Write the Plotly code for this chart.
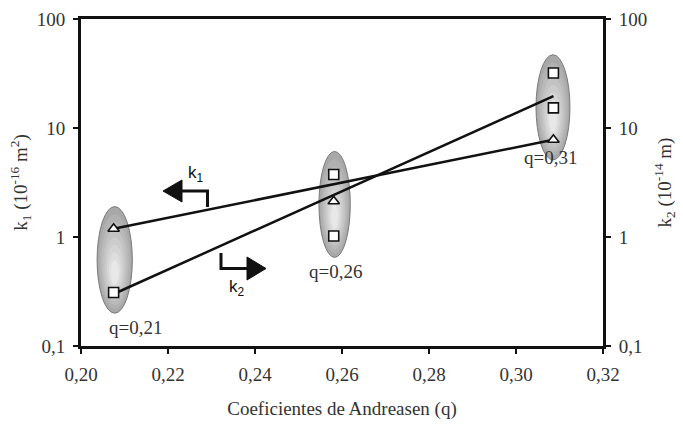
import numpy as np
import plotly.graph_objects as go

# ---------------- data ----------------
q_groups = [0.2075, 0.2581, 0.3086]
group_labels = ["q=0,21", "q=0,26", "q=0,31"]

# k1 (triangles), one per group
k1_q = [0.2075, 0.2581, 0.3086]
k1_val = [1.19, 2.13, 7.8]
# k2 (squares)
k2_q = [0.2075, 0.2581, 0.2581, 0.3086, 0.3086]
k2_val = [0.31, 3.74, 1.02, 32.0, 15.3]

# trend lines
k1_fit_q = [0.2075, 0.3086]
k1_fit_val = [1.19, 7.8]
k2_fit_q = [0.2075, 0.3086]
k2_fit_val = [0.30, 19.6]

# ellipse bounds around each group
ell_q0 = [0.2037, 0.2547, 0.3046]
ell_q1 = [0.2118, 0.2619, 0.3124]
ell_lo = [0.20, 0.65, 5.1]
ell_hi = [1.9, 6.1, 47.0]

x_ticks = [0.20, 0.22, 0.24, 0.26, 0.28, 0.30, 0.32]
x_ticktext = ["0,20", "0,22", "0,24", "0,26", "0,28", "0,30", "0,32"]
y_ticks = [0.1, 1, 10, 100]
y_ticktext = ["0,1", "1", "10", "100"]

# ---------------- layout geometry ----------------
W, H = 683, 424
ML, MR, MT, MB = 81, 80, 19, 78
PW, PH = W - ML - MR, H - MT - MB


def px(x, y):
    """pixel position -> paper coordinates"""
    return (x - ML) / PW, (H - MB - y) / PH


SERIF = "Liberation Serif"
SANS = "Liberation Sans"
TXT = "#333333"

fig = go.Figure()

# trend lines
fig.add_trace(go.Scatter(x=k1_fit_q, y=k1_fit_val, mode="lines",
                         line=dict(color="#111", width=2.5), yaxis="y", hoverinfo="skip"))
fig.add_trace(go.Scatter(x=k2_fit_q, y=k2_fit_val, mode="lines",
                         line=dict(color="#111", width=2.5), yaxis="y2", hoverinfo="skip"))
# markers
fig.add_trace(go.Scatter(x=k1_q, y=k1_val, mode="markers", yaxis="y",
                         marker=dict(symbol="triangle-up", size=10, color="white",
                                     line=dict(color="#111", width=1.6))))
fig.add_trace(go.Scatter(x=k2_q, y=k2_val, mode="markers", yaxis="y2",
                         marker=dict(symbol="square", size=10, color="white",
                                     line=dict(color="#111", width=1.6))))

shapes = []
# shaded ellipses (concentric layers for a gradient look)
n_layers = 8
c_out = np.array([168, 168, 168])
c_in = np.array([232, 232, 232])
for g in range(len(q_groups)):
    cx = (ell_q0[g] + ell_q1[g]) / 2
    hw = (ell_q1[g] - ell_q0[g]) / 2
    lc = (np.log10(ell_lo[g]) + np.log10(ell_hi[g])) / 2
    lh = (np.log10(ell_hi[g]) - np.log10(ell_lo[g])) / 2
    for k in range(n_layers):
        s = 1 - k * 0.11
        t = k / (n_layers - 1)
        col = (c_out * (1 - t) + c_in * t).astype(int)
        off = (1 - s) * lh * 0.3
        shapes.append(dict(
            type="circle", xref="x", yref="y", layer="below",
            x0=cx - hw * s, x1=cx + hw * s,
            y0=10 ** (lc - off - lh * s), y1=10 ** (lc - off + lh * s),
            fillcolor="rgb(%d,%d,%d)" % tuple(col),
            line=dict(color="#7a7a7a" if k == 0 else "rgba(0,0,0,0)", width=1),
        ))


def path(points, closed=False):
    pts = [px(*p) for p in points]
    d = "M %f,%f " % pts[0] + " ".join("L %f,%f" % p for p in pts[1:])
    return d + (" Z" if closed else "")


# k1 arrow (bent, pointing left)
shapes.append(dict(type="path", xref="paper", yref="paper",
                   path=path([(207.5, 207), (207.5, 191), (180, 191)]),
                   line=dict(color="#111", width=3)))
shapes.append(dict(type="path", xref="paper", yref="paper",
                   path=path([(182, 180), (163, 191), (182, 202)], closed=True),
                   fillcolor="#111", line=dict(color="#111", width=1)))
# k2 arrow (bent, pointing right)
shapes.append(dict(type="path", xref="paper", yref="paper",
                   path=path([(221, 253), (221, 268.5), (249, 268.5)]),
                   line=dict(color="#111", width=3)))
shapes.append(dict(type="path", xref="paper", yref="paper",
                   path=path([(247, 257), (266, 268.5), (247, 280)], closed=True),
                   fillcolor="#111", line=dict(color="#111", width=1)))

annotations = []
label_px = [(135, 327), (335, 271), (550, 157)]
for lab, (lx, ly) in zip(group_labels, label_px):
    fx, fy = px(lx, ly)
    annotations.append(dict(text=lab, x=fx, y=fy, xref="paper", yref="paper",
                            showarrow=False, xanchor="center", yanchor="middle",
                            font=dict(family=SERIF, size=19, color=TXT)))
for lab, (lx, ly) in [("k<sub>1</sub>", (196, 174)), ("k<sub>2</sub>", (237, 288))]:
    fx, fy = px(lx, ly)
    annotations.append(dict(text=lab, x=fx, y=fy, xref="paper", yref="paper",
                            showarrow=False, xanchor="center", yanchor="middle",
                            font=dict(family=SANS, size=17, color="#111")))

tickfont = dict(family=SERIF, size=19, color=TXT)
titlefont = dict(family=SERIF, size=19, color=TXT)
axis_common = dict(showline=True, linecolor="#111", linewidth=3, showgrid=False,
                   zeroline=False, ticks="outside", ticklen=5, tickwidth=1.5,
                   tickcolor="#111", tickfont=tickfont, automargin=False)

fig.update_layout(
    width=W, height=H,
    margin=dict(l=ML, r=MR, t=MT, b=MB, pad=0),
    paper_bgcolor="white", plot_bgcolor="white",
    showlegend=False,
    shapes=shapes, annotations=annotations,
    font=dict(family=SERIF, size=19, color=TXT),
    xaxis=dict(**axis_common, range=[0.20, 0.32], tickvals=x_ticks, ticktext=x_ticktext,
               mirror=True, ticklabelstandoff=4,
               title=dict(text="Coeficientes de Andreasen (q)", standoff=18, font=titlefont)),
    yaxis=dict(**axis_common, type="log", range=[-1, 2], tickvals=y_ticks,
               ticktext=y_ticktext, ticklabelstandoff=4,
               title=dict(text="k<sub>1</sub> (10<sup>-16</sup> m<sup>2</sup>)", standoff=5,
                          font=titlefont)),
    yaxis2=dict(**axis_common, type="log", range=[-1, 2], tickvals=y_ticks,
                ticktext=y_ticktext, overlaying="y", side="right", ticklabelstandoff=4,
                title=dict(text="k<sub>2</sub> (10<sup>-14</sup> m)", standoff=12,
                           font=titlefont)),
)

fig.write_html("out.html")
